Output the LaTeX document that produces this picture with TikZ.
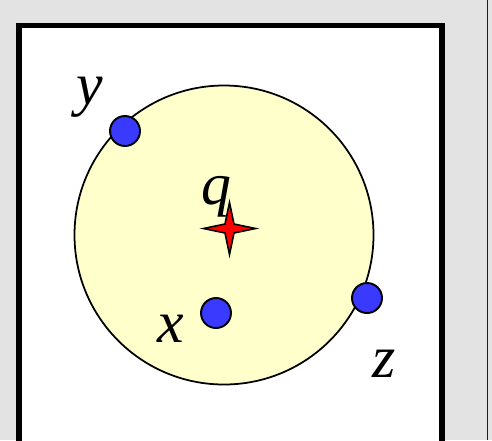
\documentclass[tikz,border=0pt]{standalone}
\usepackage{fontspec}
\setmainfont{Liberation Serif}
\usepackage{xcolor}
\usetikzlibrary{calc}
\definecolor{bggray}{HTML}{E3E3E3}
\definecolor{discfill}{HTML}{FFFFCC}
\definecolor{dotblue}{HTML}{3A3AFF}

\begin{document}
\begin{tikzpicture}[x=0.02cm,y=-0.02cm,
        pt/.style={circle,draw=black,line width=1.1pt,fill=dotblue,inner sep=0pt,minimum size=0.6cm},
        lbl/.style={font=\fontsize{34}{34}\selectfont\itshape,inner sep=0pt}]
    \def\r{149.5}
    \def\a{26}
    \def\b{4.5}

    \useasboundingbox (0,0) rectangle (492,440);
    \fill[bggray] (0,0) rectangle (492,440);
    \draw[blue,line width=0.9pt] (487.5,0) -- (487.5,440);
    \draw[line width=3.4pt,fill=white] (19,25.5) rectangle (442,470);

    % the disc
    \filldraw[fill=discfill,line width=1pt] (224,235) circle (\r);

    % query point
    \coordinate (q) at (229.5,228.5);
    \filldraw[fill=red,line width=0.9pt,line join=miter]
        ($(q)+(0,-\a)$) -- ($(q)+(\b,-\b)$) -- ($(q)+(\a,0)$) -- ($(q)+(\b,\b)$)
        -- ($(q)+(0,\a)$) -- ($(q)+(-\b,\b)$) -- ($(q)+(-\a,0)$) -- ($(q)+(-\b,-\b)$) -- cycle;
    \node[lbl] (qlab) at (216,197) {q};

    % data points
    \node[pt] (y) at (125,131) {};
    \node[pt] (x) at (216,313) {};
    \node[pt] (z) at (367,298) {};
    \node[lbl] (ylab) at (90,97) {y};
    \node[lbl] (xlab) at (171,329) {x};
    \node[lbl] (zlab) at (384,364) {z};
\end{tikzpicture}
\end{document}
